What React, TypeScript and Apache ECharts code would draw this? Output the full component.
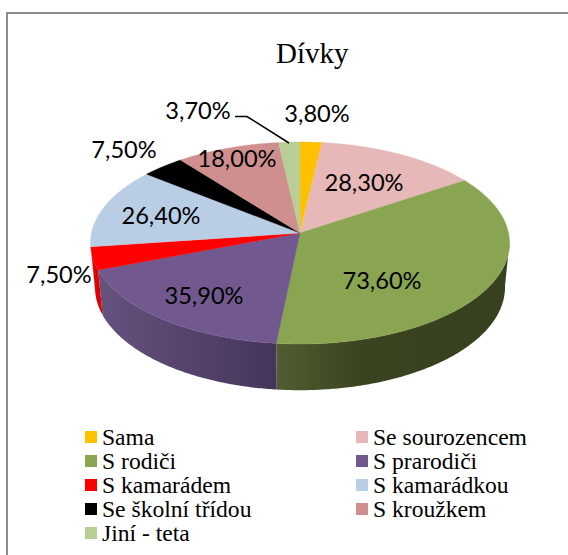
import React, { useEffect, useRef } from "react";
import * as echarts from "echarts";

const CATEGORIES = ["Sama", "Se sourozencem", "S rodiči", "S prarodiči", "S kamarádem", "S kamarádkou", "Se školní třídou", "S kroužkem", "Jiní - teta"];
const VALUES = [3.8, 28.3, 73.6, 35.9, 7.5, 26.4, 7.5, 18.0, 3.7];
const COLORS = ["#FFC000", "#E6B9B8", "#8AA551", "#71588F", "#FF0000", "#B9CDE5", "#000000", "#CE8F8E", "#B8CE95"];
const LEGEND_LEFT = ["Sama", "S rodiči", "S kamarádem", "Se školní třídou", "Jiní - teta"];
const LEGEND_RIGHT = ["Se sourozencem", "S prarodiči", "S kamarádkou", "S kroužkem"];
const TITLE = "Dívky";

// layout of the value labels (centre x, centre y), one per category
const LABEL_AT = [[317, 113], [364, 182], [382, 280], [204, 295], [59, 274], [161, 215], [124, 149], [237, 158], [198, 110]];
const LEADER = [[235, 116.5], [247, 116.5], [289, 143]];

// wall shading, left to right
const WALLS: Record<number, [string, number][]> = {
  2: [[0, "#525E31"], [0.35, "#3A4421"], [1, "#37401F"]],
  3: [[0, "#65527F"], [1, "#46355A"]],
  4: [[0, "#E60000"], [1, "#D80000"]],
};

const CX = 300, K = 0.099;
const top = (t: number) => {
  const X = Math.sin(t), Y = Math.cos(t), d = 1 + K * Y;
  return [CX + (208.5 * X) / d, 233 - (100 * Y) / d];
};
const bottom = (t: number) => {
  const X = Math.sin(t), Y = Math.cos(t), d = 1 + K * Y;
  return [CX + (204 * X) / d, 277 - (102 * Y) / d];
};
const arc = (fn: (t: number) => number[], a: number, b: number) => {
  const n = Math.max(2, Math.ceil(Math.abs(b - a) / 0.01));
  const pts: number[][] = [];
  for (let i = 0; i <= n; i++) pts.push(fn(a + ((b - a) * i) / n));
  return pts;
};

const TOTAL = VALUES.reduce((s, v) => s + v, 0);
const WALL_FROM = (95 * Math.PI) / 180, WALL_TO = (264 * Math.PI) / 180;

const fmt = (v: number) => v.toFixed(2).replace(".", ",") + "%";

function buildSeries() {
  let acc = 0;
  return CATEGORIES.map((name, i) => {
    const a = (acc / TOTAL) * 2 * Math.PI;
    acc += VALUES[i];
    const b = (acc / TOTAL) * 2 * Math.PI;
    return {
      type: "custom",
      name,
      coordinateSystem: "none",
      itemStyle: { color: COLORS[i] },
      data: [[VALUES[i]]],
      silent: true,
      renderItem: (_p: any, api: any) => {
        const children: any[] = [];
        const wa = Math.max(a, WALL_FROM), wb = Math.min(b, WALL_TO);
        if (wb > wa) {
          const pts = [...arc(top, wa, wb), ...arc(bottom, wb, wa)];
          const stops = WALLS[i] || [[0, COLORS[i]], [1, COLORS[i]]];
          const grad = new echarts.graphic.LinearGradient(0, 0, 1, 0, stops.map(([offset, color]) => ({ offset, color })));
          children.push({ type: "polygon", shape: { points: pts }, style: { fill: grad } });
        }
        const topPts = [[CX, 233], ...arc(top, a, b)];
        children.push({
          type: "polygon",
          shape: { points: topPts },
          style: { fill: COLORS[i], stroke: COLORS[i], lineWidth: 0.4 },
        });
        return { type: "group", children };
      },
    };
  });
}

function buildLabels() {
  return {
    type: "custom",
    name: "labels",
    coordinateSystem: "none",
    data: VALUES.map((v) => [v]),
    silent: true,
    z: 5,
    renderItem: (p: any, api: any) => {
      const i = p.dataIndex;
      const children: any[] = [
        {
          type: "text",
          x: LABEL_AT[i][0],
          y: LABEL_AT[i][1],
          style: {
            text: fmt(api.value(0)),
            fill: "#000",
            font: "23.6px Lato",
            align: "center",
            verticalAlign: "middle",
          },
        },
      ];
      if (i === VALUES.length - 1) {
        children.push({
          type: "polyline",
          shape: { points: LEADER },
          style: { stroke: "#000", lineWidth: 1.5, fill: null },
        });
      }
      return { type: "group", children };
    },
  };
}

const legendBase = {
  orient: "vertical",
  icon: "rect",
  itemWidth: 12,
  itemHeight: 12,
  itemGap: 0,
  padding: 0,
  top: 425,
  selectedMode: false,
  textStyle: { fontFamily: "Liberation Serif", fontSize: 23.6, lineHeight: 23.7, color: "#000" },
};

export default function App() {
  const ref = useRef<HTMLDivElement>(null);
  useEffect(() => {
    document.body.style.margin = "0";
    const chart = echarts.init(ref.current!, null, { renderer: "svg" });
    chart.setOption({
      animation: false,
      backgroundColor: "#fff",
      title: {
        text: TITLE,
        left: 276,
        top: 38,
        padding: 0,
        textStyle: { fontFamily: "Liberation Serif", fontSize: 29, fontWeight: "normal", color: "#000" },
      },
      legend: [
        { ...legendBase, left: 85, data: LEGEND_LEFT },
        { ...legendBase, left: 356, data: LEGEND_RIGHT },
      ],
      graphic: [
        { type: "line", shape: { x1: 7, y1: 13, x2: 568, y2: 13 }, style: { stroke: "#8C8C8C", lineWidth: 2 } },
        { type: "line", shape: { x1: 7, y1: 12, x2: 7, y2: 555 }, style: { stroke: "#8C8C8C", lineWidth: 2 } },
      ],
      series: [...buildSeries(), buildLabels()],
    });
    return () => chart.dispose();
  }, []);
  return <div ref={ref} style={{ width: 568, height: 555 }} />;
}
